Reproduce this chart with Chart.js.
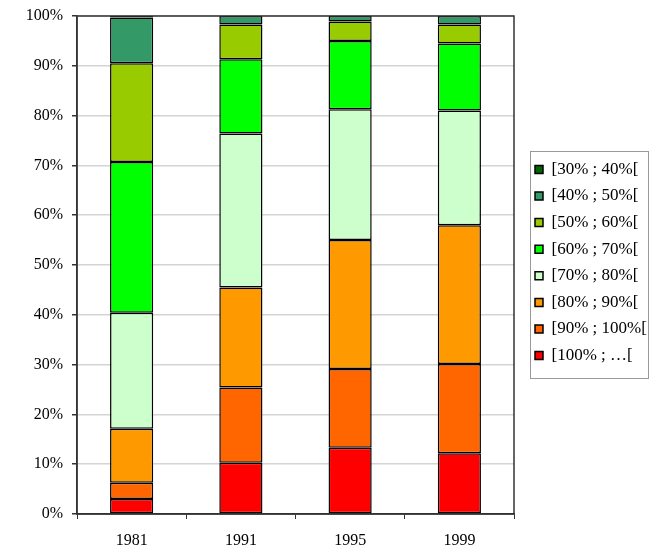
<!DOCTYPE html>
<html>
<head>
<meta charset="utf-8">
<script src="https://cdn.jsdelivr.net/npm/chart.js@4"></script>
<style>
  html, body { margin: 0; padding: 0; background: #fff; }
  #wrap { width: 650px; height: 559px; }
</style>
</head>
<body>
<div id="wrap"><canvas id="chart"></canvas></div>
<script>
// Years on the x axis
const years = ['1981', '1991', '1995', '1999'];

// Share of each class per year (%), bottom of the stack first
const classLabels = ['[100% ; \u2026[', '[90% ; 100%[', '[80% ; 90%[', '[70% ; 80%[',
  '[60% ; 70%[', '[50% ; 60%[', '[40% ; 50%[', '[30% ; 40%['];
const share100 = [3.0, 10.3, 13.3, 12.2];
const share90 = [3.3, 15.1, 15.8, 17.9];
const share80 = [10.8, 20.1, 25.9, 27.9];
const share70 = [23.3, 30.9, 26.3, 23.0];
const share60 = [30.3, 14.9, 13.7, 13.5];
const share50 = [19.8, 7.0, 3.9, 3.8];
const share40 = [9.2, 1.7, 1.1, 1.7];
const share30 = [0.3, 0, 0, 0];

const yTicks = [0, 10, 20, 30, 40, 50, 60, 70, 80, 90, 100];

const classColors = ['#ff0000', '#ff6600', '#ff9900', '#ccffcc',
  '#00ff00', '#99cc00', '#339966', '#006600'];
const seriesValues = [share100, share90, share80, share70, share60, share50, share40, share30];

const FONT = "'Liberation Serif', 'DejaVu Serif', serif";

/** frame around the plot and around the legend */
const framePlugin = {
  id: 'frames',
  beforeLayout(chart) {
    const lg = chart.legend;
    if (lg && !lg._fixedWidth) {
      const fit = lg.fit;
      lg.fit = function () { fit.call(this); this.width = 136; };
      lg._fixedWidth = true;
    }
  },
  afterLayout(chart) {
    const lg = chart.legend;
    lg.left += 11.4;
    lg.right += 11.4;
    lg.top -= 25;
    lg.bottom -= 25;
  },
  afterDatasetsDraw(chart) {
    const { ctx, chartArea: a } = chart;
    ctx.save();
    ctx.strokeStyle = '#333';
    ctx.lineWidth = 1.5;
    ctx.strokeRect(a.left, a.top, a.right - a.left, a.bottom - a.top);
    ctx.restore();
  },
  afterDraw(chart) {
    const { ctx, chartArea: a } = chart;
    const boxes = chart.legend.legendHitBoxes;
    if (!boxes || !boxes.length) return;
    const first = boxes[0];
    const last = boxes[boxes.length - 1];
    const top = first.top - 10;
    const bottom = last.top + last.height + 14;
    const left = a.right + 16;
    ctx.save();
    ctx.strokeStyle = '#999';
    ctx.lineWidth = 1;
    ctx.strokeRect(Math.round(left) + 0.5, Math.round(top) + 0.5,
      chart.width - 2 - Math.round(left), Math.round(bottom - top));
    ctx.restore();
  }
};

new Chart(document.getElementById('chart'), {
  type: 'bar',
  data: {
    labels: years,
    datasets: seriesValues.map((vals, i) => ({
      label: classLabels[i],
      data: vals,
      backgroundColor: classColors[i],
      borderColor: '#000',
      borderWidth: 1.5,
      borderSkipped: false,
      barPercentage: 0.395,
      categoryPercentage: 1,
    })),
  },
  options: {
    responsive: true,
    maintainAspectRatio: false,
    animation: false,
    layout: { padding: { top: 16, bottom: 0, left: 0, right: 0 } },
    plugins: {
      title: { display: false },
      tooltip: { enabled: false },
      legend: {
        position: 'right',
        reverse: true,
        labels: {
          boxWidth: 8,
          boxHeight: 8,
          padding: 9.6,
          color: '#000',
          font: { family: FONT, size: 17 },
        },
      },
    },
    scales: {
      x: {
        stacked: true,
        afterFit: (scale) => { scale.height = 45; },
        grid: { drawOnChartArea: false, drawTicks: true, tickLength: 5, tickColor: '#333' },
        border: { color: '#333', width: 1.5 },
        ticks: { color: '#000', padding: 12, font: { family: FONT, size: 16 } },
      },
      y: {
        stacked: true,
        min: 0,
        max: 100,
        afterFit: (scale) => {
          scale.width = 77;
          scale.paddingTop = 0;
          scale.paddingBottom = 0;
        },
        afterBuildTicks: (scale) => { scale.ticks = yTicks.map((v) => ({ value: v })); },
        grid: { color: '#d4d4d4', lineWidth: 1.5, tickLength: 5, tickColor: '#333' },
        border: { color: '#333', width: 1.5 },
        ticks: {
          color: '#000',
          padding: 9,
          font: { family: FONT, size: 16 },
          callback: (v) => `${v}%`,
        },
      },
    },
  },
  plugins: [framePlugin],
});
</script>
</body>
</html>
